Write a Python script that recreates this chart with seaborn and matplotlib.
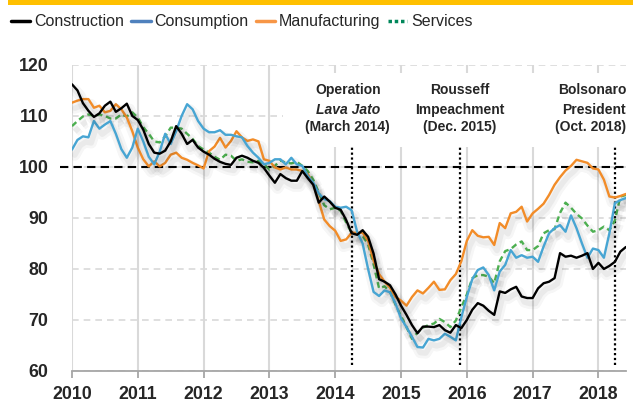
import matplotlib
matplotlib.use("Agg")
import matplotlib.pyplot as plt
import matplotlib.patheffects as pe
from matplotlib.lines import Line2D
from matplotlib.patches import Rectangle
import numpy as np
import pandas as pd
import seaborn as sns

# monthly index, Jan 2010 - Jun 2018
start_year = 2010
construction = [116.2, 115.0, 112.5, 111.0, 109.8, 110.5, 112.0, 112.8, 110.8, 111.5, 112.4, 110.0,
                109.2, 107.3, 104.5, 102.8, 102.6, 103.2, 105.0, 108.0, 106.5, 104.5, 105.3, 103.8,
                103.0, 102.4, 101.6, 101.0, 100.6, 100.4, 101.8, 102.2, 101.8, 101.2, 100.8, 99.8,
                98.3, 96.9, 98.6, 97.8, 97.3, 97.3, 99.2, 97.8, 96.5, 93.0, 94.2, 93.2,
                92.0, 91.6, 89.6, 87.0, 86.7, 87.6, 86.3, 83.0, 78.0, 77.5, 76.8, 75.0,
                72.8, 71.0, 69.0, 67.4, 68.7, 68.7, 68.6, 69.0, 68.0, 67.5, 69.0, 68.4,
                70.0, 72.0, 73.3, 72.8, 71.8, 71.0, 75.6, 75.3, 76.0, 76.5, 74.6, 74.3,
                74.3, 76.2, 77.2, 77.5, 78.2, 83.1, 82.4, 82.6, 82.2, 82.6, 83.1, 80.0,
                81.2, 80.0, 80.6, 81.4, 83.4, 84.3]
consumption = [103.4, 105.3, 106.0, 105.8, 109.0, 107.5, 108.3, 109.0, 106.5, 103.5, 101.8, 103.8,
               107.5, 105.0, 102.0, 100.5, 103.0, 106.5, 104.5, 107.0, 110.0, 112.3, 111.3, 109.0,
               107.5, 106.8, 106.8, 107.2, 106.3, 106.3, 106.0, 105.8, 104.1, 102.8, 101.8, 100.5,
               100.8, 101.5, 101.5, 100.5, 101.8, 100.5, 100.2, 98.2, 96.9, 94.8, 93.7, 93.3,
               92.2, 92.0, 92.2, 91.5, 87.3, 85.0, 80.0, 75.5, 74.7, 75.8, 75.4, 73.2,
               70.3, 68.6, 66.7, 64.7, 64.6, 66.3, 66.0, 66.3, 67.3, 66.7, 66.0, 70.5,
               74.5, 78.0, 79.8, 80.3, 78.8, 75.8, 79.5, 80.8, 83.7, 82.2, 82.7, 82.2,
               82.4, 81.4, 84.4, 87.0, 88.0, 88.6, 87.3, 90.5, 88.0, 85.0, 82.2, 84.0,
               83.7, 82.2, 87.0, 92.9, 93.5, 93.9]
manufacturing = [112.6, 113.0, 113.3, 113.3, 111.6, 112.0, 110.7, 111.0, 112.3, 111.3, 109.7, 107.0,
                 103.8, 101.5, 100.1, 101.1, 100.1, 100.8, 102.4, 102.8, 101.8, 101.4, 100.8, 100.3,
                 99.7, 103.1, 104.0, 105.7, 103.8, 105.1, 107.0, 105.8, 105.1, 105.4, 105.0, 101.5,
                 101.2, 99.9, 99.5, 99.9, 99.5, 99.5, 99.2, 98.6, 96.6, 93.3, 89.7, 88.4,
                 87.5, 85.5, 85.8, 87.1, 87.1, 87.1, 85.5, 81.6, 79.0, 77.5, 76.3, 74.5,
                 73.8, 72.8, 74.5, 75.8, 75.2, 76.3, 77.5, 75.9, 76.0, 77.8, 79.0, 81.5,
                 85.5, 87.6, 86.5, 86.2, 86.3, 84.7, 89.0, 88.0, 90.9, 91.2, 92.2, 89.3,
                 90.9, 91.8, 92.8, 94.5, 96.5, 98.0, 99.3, 100.2, 101.4, 101.1, 100.8, 99.7,
                 99.5, 97.5, 94.2, 94.0, 94.3, 94.7]
services = [108.0, 109.0, 109.9, 110.3, 110.0, 110.3, 110.0, 109.5, 109.5, 110.3, 109.9, 110.7,
            109.7, 107.8, 106.5, 105.0, 104.8, 106.0, 107.7, 107.7, 107.5, 106.5, 105.5, 104.1,
            103.4, 102.8, 102.0, 101.4, 102.4, 102.2, 101.2, 101.5, 101.0, 100.9, 101.2, 100.5,
            99.5, 100.2, 101.3, 100.8, 100.7, 101.0, 100.2, 99.2, 97.5, 95.0, 92.5, 91.7,
            92.0, 91.4, 89.1, 87.1, 86.8, 86.5, 84.8, 80.9, 76.2, 76.6, 75.5, 73.0,
            70.8, 68.6, 66.3, 67.5, 68.5, 69.0, 69.3, 70.2, 69.6, 68.6, 69.9, 72.5,
            75.0, 78.2, 78.8, 78.8, 78.5, 77.2, 81.5, 83.5, 83.9, 84.8, 85.4, 83.7,
            83.7, 84.5, 87.0, 87.6, 87.8, 91.0, 93.0, 92.0, 90.8, 89.9, 88.5, 87.3,
            87.6, 88.3, 87.6, 89.5, 94.2, 94.5]

years = list(range(2010, 2019))
event_dates = [2014.25, 2015.89, 2018.25]

n = len(construction)
df = pd.DataFrame({"date": start_year + np.arange(n) / 12,
                   "Construction": construction,
                   "Consumption": consumption,
                   "Manufacturing": manufacturing,
                   "Services": services})
long = df.melt(id_vars="date", var_name="sector", value_name="index")

sns.set_theme(style="white")
plt.rcParams["font.family"] = ["Liberation Sans", "DejaVu Sans"]

fig = plt.figure(figsize=(6.33, 4.07), dpi=100)
ax = fig.add_axes([0.1137, 0.0885, 0.875, 0.752])

# top banner
fig.patches.append(Rectangle((8 / 633, 1 - 5 / 407), 1, 5 / 407, transform=fig.transFigure,
                             facecolor="#FFC000", edgecolor="none"))

shadow = [pe.SimpleLineShadow(offset=(2, -4), shadow_color="k", alpha=0.04, linewidth=8),
          pe.SimpleLineShadow(offset=(2, -4), shadow_color="k", alpha=0.05, linewidth=4),
          pe.Normal()]

styles = {
    "Construction": dict(color="black", linestyle="-"),
    "Consumption": dict(color="#47A5D3", linestyle="-"),
    "Manufacturing": dict(color="#F28C28", linestyle="-"),
    "Services": dict(color="#4CAF50", linestyle=(0, (2.5, 1.6))),
}
for name in ["Services", "Manufacturing", "Consumption", "Construction"]:
    sns.lineplot(data=long[long["sector"] == name], x="date", y="index", ax=ax,
                 lw=1.7, path_effects=shadow, zorder=3, **styles[name])

ax.set_xlim(2010, 2010 + (n - 1) / 12)
ax.set_ylim(60, 120)
ax.set_xticks(years)
ax.set_xticklabels([str(y) for y in years])
ax.set_yticks(range(60, 121, 10))
ax.set_xlabel("")
ax.set_ylabel("")

ax.set_axisbelow(True)
ax.xaxis.grid(True, color="#D9D9D9", lw=1.5, ls="-")
ax.yaxis.grid(True, color="#D9D9D9", lw=1.2, ls=(0, (4, 3)))
for side in ["left", "right", "top"]:
    ax.spines[side].set_visible(False)
ax.spines["bottom"].set_color("#A6A6A6")
ax.spines["bottom"].set_linewidth(1.3)
ax.tick_params(axis="x", bottom=True, direction="out", length=5, width=1.3, color="#A6A6A6",
               labelsize=12.8, pad=6)
ax.tick_params(axis="y", left=False, length=0, labelsize=12.8, pad=17)
for lab in ax.get_xticklabels() + ax.get_yticklabels():
    lab.set_fontweight("bold")

# white panel behind annotations
ax.add_patch(Rectangle((2013.2, 103.9), 2010 + (n - 1) / 12 - 2013.2, 118.4 - 103.9,
                       facecolor="white", edgecolor="none", zorder=1))

ax.axhline(100, xmin=-0.022, xmax=1, color="black", lw=1.5, ls=(0, (4, 2.5)), clip_on=False, zorder=2)
ax.vlines(event_dates, 61.2, 103.9, colors="black", linestyles=(0, (1, 1.2)), lw=1.6, zorder=2)

tk = dict(fontsize=10, fontweight="bold", zorder=4)
ax.text(2014.19, 115.1, "Operation", ha="center", va="center", **tk)
ax.text(2014.19, 111.2, "Lava Jato", ha="center", va="center", style="italic", **tk)
ax.text(2014.19, 107.8, "(March 2014)", ha="center", va="center", **tk)
ax.text(2015.89, 115.1, "Rousseff", ha="center", va="center", **tk)
ax.text(2015.89, 111.2, "Impeachment", ha="center", va="center", **tk)
ax.text(2015.89, 107.8, "(Dec. 2015)", ha="center", va="center", **tk)
ax.text(2018.42, 115.1, "Bolsonaro", ha="right", va="center", **tk)
ax.text(2018.42, 111.2, "President", ha="right", va="center", **tk)
ax.text(2018.42, 107.8, "(Oct. 2018)", ha="right", va="center", **tk)

handles = [Line2D([], [], color="black", lw=2.5),
           Line2D([], [], color="#4F81BD", lw=2.5),
           Line2D([], [], color="#F79646", lw=2.5),
           Line2D([], [], color="#00875A", lw=2.5, ls=(0, (1, 0.8)))]
fig.legend(handles, ["Construction", "Consumption", "Manufacturing", "Services"],
           loc="center left", bbox_to_anchor=(0.0, 0.946), ncol=4, frameon=False,
           fontsize=11.5, handlelength=1.2, handletextpad=0.25, columnspacing=0.45,
           borderaxespad=0.3)

fig.savefig("out.png", dpi=100)
